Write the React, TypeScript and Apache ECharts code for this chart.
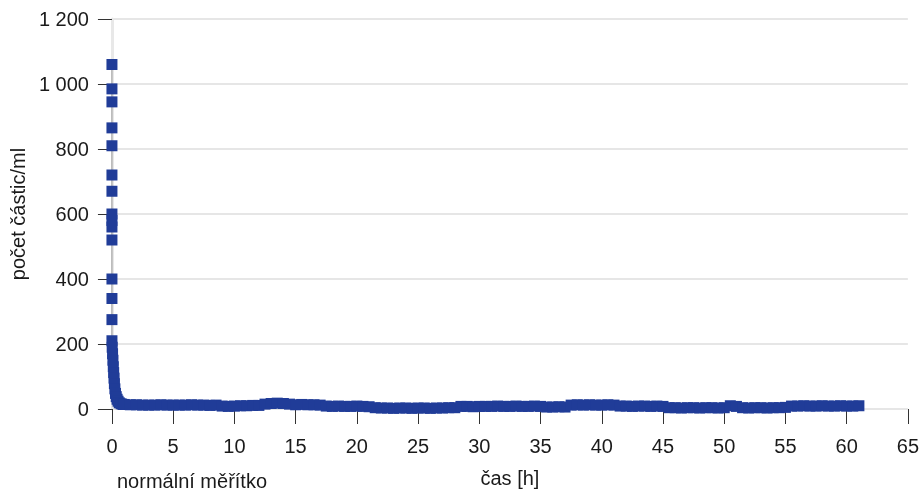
import React, { useEffect, useRef } from "react";
import * as echarts from "echarts";

// Initial burst: readings logged right at start (t = 0 h)
const burstHours = [0, 0, 0, 0, 0, 0, 0, 0, 0, 0, 0, 0, 0, 0, 0];
const burstCounts = [1060, 985, 945, 865, 810, 720, 670, 600, 580, 560, 520, 400, 340, 275, 210];

// Fast decay during the first hour
const decayHours = [0.02, 0.05, 0.08, 0.11, 0.14, 0.17, 0.2, 0.24, 0.29, 0.35, 0.42, 0.5, 0.6, 0.75, 0.9];
const decayCounts = [190, 170, 150, 130, 112, 95, 78, 62, 48, 38, 30, 24, 19, 16, 14];

// Long-run readings, one every half hour from 1 h to 61 h
const steadyStart = 1;
const steadyStep = 0.5;
const steadyCounts = [
  14, 13, 13, 12, 12, 12, 13, 12, 12,
  12, 12, 13, 12, 12, 11, 12,
  9, 8, 9, 10, 10, 11, 11,
  15, 17, 18, 17, 15,
  13, 14, 13, 13, 12,
  9, 8, 9, 8, 8, 9, 8, 7,
  4, 3, 3, 2, 3, 3, 2, 3, 3, 2, 3, 3, 4, 4,
  8, 8, 7, 8,
  8, 8, 9, 8, 8, 9, 8, 8, 9, 8,
  6, 6, 7, 6,
  12, 13, 12, 13, 12, 12, 13, 12,
  9, 9, 8, 9, 9, 8, 9, 8,
  4, 4, 3, 4, 4, 3, 4, 4, 3, 4,
  10, 8,
  4, 3, 4, 4, 3, 4, 4, 5,
  9, 9, 10, 9, 9, 10, 9, 9, 10, 9, 9, 10,
];

const yTicks = [0, 200, 400, 600, 800, 1000, 1200];
const xTicks = [0, 5, 10, 15, 20, 25, 30, 35, 40, 45, 50, 55, 60, 65];

const FONT = "'Liberation Sans', Arial, Helvetica, sans-serif";
const TEXT = "#1a1a1a";
const BLUE = "#203c98";
const SIZE = 20;

const formatThousands = (v: number) =>
  String(v).replace(/\B(?=(\d{3})+(?!\d))/g, " ");

export default function App() {
  const ref = useRef<HTMLDivElement>(null);

  useEffect(() => {
    if (!ref.current) return;
    const chart = echarts.init(ref.current, undefined, { renderer: "svg" });

    const points: [number, number][] = [];
    burstHours.forEach((h, i) => points.push([h, burstCounts[i]]));
    decayHours.forEach((h, i) => points.push([h, decayCounts[i]]));
    steadyCounts.forEach((c, i) => points.push([steadyStart + i * steadyStep, c]));

    chart.setOption({
      animation: false,
      grid: { left: 107, right: 11, top: 19, bottom: 78, containLabel: false },
      xAxis: {
        type: "value",
        min: xTicks[0],
        max: xTicks[xTicks.length - 1],
        interval: 5,
        name: "čas [h]",
        nameLocation: "middle",
        nameGap: 59,
        nameTextStyle: { color: TEXT, fontFamily: FONT, fontSize: SIZE },
        axisLine: { show: false },
        axisTick: { show: true, length: 15, lineStyle: { color: "#333", width: 1 } },
        axisLabel: { color: TEXT, fontFamily: FONT, fontSize: SIZE, margin: 27 },
        splitLine: { show: false },
      },
      yAxis: {
        type: "value",
        min: yTicks[0],
        max: yTicks[yTicks.length - 1],
        interval: 200,
        name: "počet částic/ml",
        nameLocation: "middle",
        nameGap: 72,
        nameTextStyle: { color: TEXT, fontFamily: FONT, fontSize: SIZE },
        axisLine: { show: true, lineStyle: { color: "#e8e8e8", width: 3 } },
        axisTick: { show: true, length: 14, lineStyle: { color: "#333", width: 1 } },
        axisLabel: {
          color: TEXT,
          fontFamily: FONT,
          fontSize: SIZE,
          margin: 23,
          formatter: (v: number) => formatThousands(v),
        },
        splitLine: { show: true, lineStyle: { color: "#e6e6e6", width: 2 } },
      },
      graphic: [
        {
          type: "text",
          left: 117,
          top: 471,
          style: { text: "normální měřítko", fill: TEXT, font: `${SIZE}px ${FONT}` },
        },
      ],
      series: [
        {
          type: "line",
          data: points,
          symbol: "rect",
          symbolSize: 11,
          showSymbol: true,
          itemStyle: { color: BLUE },
          lineStyle: { color: "#9a9a9a", width: 1 },
          z: 3,
        },
      ],
    });

    return () => chart.dispose();
  }, []);

  return (
    <div
      ref={ref}
      style={{ position: "fixed", left: 0, top: 0, width: 922, height: 493 }}
    />
  );
}
